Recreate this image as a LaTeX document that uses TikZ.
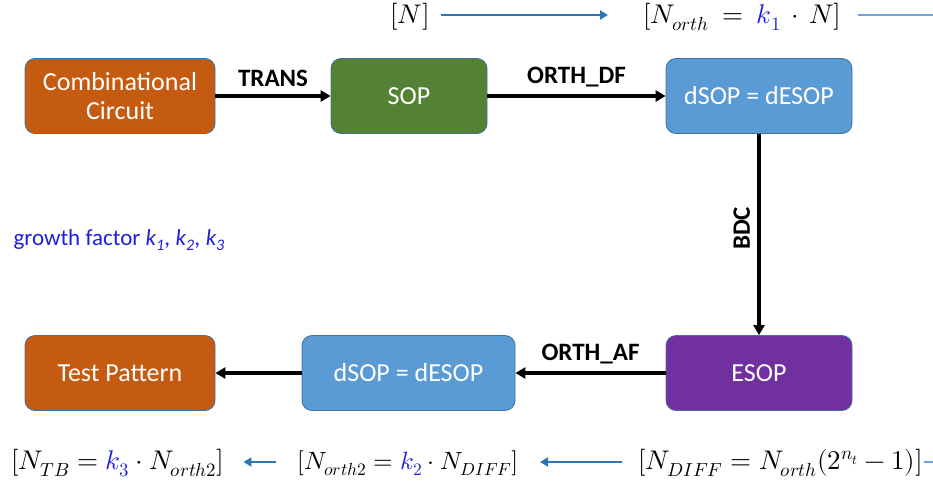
\documentclass[tikz,border=0pt]{standalone}
\usepackage{fontspec}
\setmainfont{Carlito}
\usepackage{unicode-math}
\usetikzlibrary{arrows.meta}
\definecolor{corange}{HTML}{C55A11}
\definecolor{cgreen}{HTML}{548235}
\definecolor{cblue}{HTML}{5B9BD5}
\definecolor{cpurple}{HTML}{7030A0}
\definecolor{cedge}{HTML}{41719C}
\definecolor{flowblue}{HTML}{2E75B6}
\definecolor{lightflow}{HTML}{6FA3D8}
\definecolor{kblue}{HTML}{1F1FE0}
\begin{document}
\begin{tikzpicture}[x=1pt,y=-1pt,
  box/.style={draw=cedge, line width=0.8pt, rounded corners=10pt, minimum width=190pt, minimum height=75pt,
    text=white, align=center, font=\fontsize{26}{29}\selectfont, inner sep=2pt},
  flow/.style={line width=3.4pt, -{Triangle[length=10pt,width=11pt]}},
  lab/.style={font=\bfseries\fontsize{25}{28}\selectfont},
  mth/.style={font=\fontsize{27}{31}\selectfont, inner sep=1pt},
  bflow/.style={draw=flowblue, line width=2.8pt, -{Triangle[length=8pt,width=9pt]}},
  lflow/.style={draw=lightflow, line width=2.8pt}
]
\useasboundingbox (0,0) rectangle (933,488);
% boxes
\node[box, fill=corange] (cc) at (120,96) {Combinational\\Circuit};
\node[box, fill=cgreen, minimum width=156pt] (sop) at (409,96) {SOP};
\node[box, fill=cblue, minimum width=186pt] (dsop1) at (759,96) {dSOP = dESOP};
\node[box, fill=cpurple, minimum width=186pt] (esop) at (759,373) {ESOP};
\node[box, fill=cblue, minimum width=213pt] (dsop2) at (408.5,373) {dSOP = dESOP};
\node[box, fill=corange] (tp) at (120,373) {Test Pattern};
% black arrows
\draw[flow] (cc) -- node[lab, above=4pt] {TRANS} (sop);
\draw[flow] (sop) -- node[lab, above=4pt] {ORTH\_DF} (dsop1);
\draw[flow] (dsop1) -- node[lab, rotate=90, pos=0.47, anchor=south, yshift=4pt] {BDC} (esop);
\draw[flow] (esop) -- node[lab, above=4pt] {ORTH\_AF} (dsop2);
\draw[flow] (dsop2) -- (tp);
% growth factor
\node[text=kblue, font=\fontsize{23}{27}\selectfont, anchor=west] (gf) at (10,240)
  {growth factor \textit{k\textsubscript{1}, k\textsubscript{2}, k\textsubscript{3}}};
% top formulas
\coordinate (topend) at (933,15);
\node[mth] (n0) at (410,17) {$[N]$};
\node[mth, anchor=west] (n1) at (642,17) {$[N_{orth}\:=\:\textcolor{kblue}{k_1}\,\cdot\, N]$};
\draw[bflow] ([xshift=10pt]n0.east |- topend) -- ([xshift=-34pt]n1.west |- topend);
\draw[lflow] ([xshift=15pt]n1.east |- topend) -- (topend);
% bottom formulas
\coordinate (botend) at (933,462);
\node[mth, anchor=west] (b3) at (10,463) {$[N_{TB}=\textcolor{kblue}{k_3}\cdot N_{orth2}]$};
\node[mth, font=\fontsize{25}{30}\selectfont] (b2) at (408,463) {$[N_{orth2}=\textcolor{kblue}{k_2}\cdot N_{DIFF}]$};
\node[mth, anchor=west] (b1) at (637,463) {$[N_{DIFF}=N_{orth}(2^{n_t}-1)]$};
\draw[bflow] ([xshift=-15pt]b1.west |- botend) -- ([xshift=-97pt]b1.west |- botend);
\draw[bflow] ([xshift=-20pt]b2.west |- botend) -- ([xshift=18pt]b3.east |- botend);
\draw[lflow] (b1.east |- botend) -- (botend);
\end{tikzpicture}
\end{document}
